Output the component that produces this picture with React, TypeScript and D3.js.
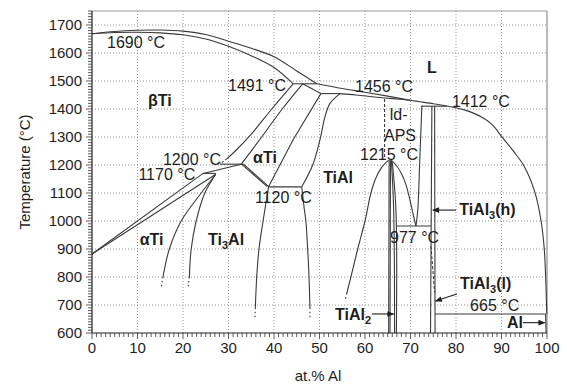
import * as d3 from "d3";
import React from "react";

type Pt = [number, number];

// axes
const xTickValues = d3.range(0, 101, 10);
const yTickValues = d3.range(600, 1701, 100);
const xMinor = d3.range(0, 101, 1);
const yMinor = d3.range(600, 1751, 10);

// phase boundaries, [at.% Al, °C]
const liquidusTi: Pt[] = [[0, 1669], [5, 1677], [10, 1681], [15, 1682], [20, 1678], [25, 1666], [30, 1642], [35, 1617], [40, 1587], [45, 1536], [49.4, 1490]];
const solidusBeta: Pt[] = [[0, 1669], [5, 1673], [10, 1674], [15, 1672], [20, 1665], [25, 1650], [30, 1624], [35, 1590], [40, 1548], [44.2, 1490]];
const liquidusAl: Pt[] = [[49.4, 1490], [55, 1473], [60, 1460], [65, 1446], [70, 1431], [75, 1419], [78, 1411], [82, 1396], [86, 1368], [88, 1343], [90, 1302], [92.5, 1252], [95, 1195], [97.3, 1105], [98.7, 1000], [99.4, 900], [99.7, 800], [99.9, 700], [99.95, 668]];
const solidusGamma: Pt[] = [[54.5, 1455], [58, 1450], [62, 1443], [66, 1437], [70, 1431]];
const betaTransus: Pt[] = [[44.2, 1490], [39.5, 1400], [35, 1310], [31.5, 1250], [29.6, 1222]];
const betaTransusDash: Pt[] = [[29.6, 1222], [28.1, 1203]];
const alphaBeta: Pt[] = [[46.3, 1490], [41.8, 1400], [37.3, 1300], [32.8, 1203]];
const alphaSolidus: Pt[] = [[46.3, 1490], [50.3, 1455]];
const alphaGamma: Pt[] = [[50.3, 1455], [44.2, 1290], [38.8, 1122]];
const gammaLeft: Pt[] = [[54.5, 1455], [52.3, 1420], [51.2, 1372], [50.1, 1290], [48.5, 1200], [46.1, 1122]];
const gammaLeftLow: Pt[] = [[46.1, 1122], [46.6, 1050], [47, 1000], [47.4, 900], [47.7, 800], [47.9, 690]];
const alpha2Right: Pt[] = [[38.8, 1122], [37.6, 1000], [36.7, 900], [36.2, 800], [35.9, 690]];
const lensA: Pt[] = [[32.8, 1204], [38.5, 1123]];
const lensB: Pt[] = [[33.3, 1203], [38.9, 1122]];
const upperTi: Pt[] = [[0, 882], [24.4, 1170], [32.8, 1203]];
const lowerTi: Pt[] = [[0, 882], [27.2, 1167]];
const alphaAlpha2: Pt[] = [[27.2, 1167], [24, 1100], [19.6, 1000], [17, 900], [15.6, 800]];
const alpha2Left: Pt[] = [[27.2, 1167], [24.8, 1100], [22.9, 1000], [21.8, 900], [21.4, 800]];
const dome: Pt[] = [[56, 742], [56.9, 800], [58.4, 900], [60, 1000], [61.3, 1100], [62.3, 1150], [63.6, 1190], [65.5, 1218], [66.8, 1200], [68, 1170], [69, 1130], [69.8, 1080], [70.5, 1030], [71.2, 982]];
const tiAl2A: Pt[] = [[65.3, 1214], [65.2, 600]];
const tiAl2B: Pt[] = [[65.6, 1216], [65.5, 600]];
const tiAl2C: Pt[] = [[65.8, 1214], [66.3, 1040], [66.5, 600]];
const tiAl2D: Pt[] = [[66.0, 1210], [66.8, 1040], [66.9, 600]];
const ldApsEdge: Pt[] = [[72.5, 1413], [72.0, 1200], [71.6, 1039], [71.2, 982]];
const tiAl3Left: Pt[] = [[74.7, 1410], [74.4, 600]];
const tiAl3Right: Pt[] = [[75.3, 1410], [75.4, 600]];
const alSolvus: Pt[] = [[99.7, 668], [99.8, 600]];

// isotherms
const iso1491: Pt[] = [[44.2, 1490], [49.4, 1490]];
const iso1456: Pt[] = [[50.3, 1455], [54.5, 1455]];
const iso1412: Pt[] = [[72.5, 1410], [78, 1410]];
const iso1200: Pt[] = [[28.1, 1203], [33.3, 1203]];
const iso1170: Pt[] = [[24.4, 1170], [27.2, 1170]];
const iso1120: Pt[] = [[38.8, 1122], [46.1, 1122]];
const iso977: Pt[] = [[66.9, 982], [74.5, 982]];
const iso665: Pt[] = [[75.4, 668], [99.7, 668]];

// dashed and dotted parts
const ldApsDash: Pt[] = [[64.3, 1436], [64.3, 1224]];
const tiAl3Dash: Pt[] = [[74.5, 910], [75.3, 745]];
const tails: Pt[][] = [
  [[15.6, 800], [15.2, 760]],
  [[21.4, 800], [21.1, 760]],
  [[35.9, 690], [35.8, 650]],
  [[47.9, 690], [47.9, 650]],
  [[56, 742], [55.6, 715]],
];

const smoothLines = [liquidusTi, solidusBeta, liquidusAl, solidusGamma, betaTransus, alphaBeta, gammaLeft, gammaLeftLow, alpha2Right, alphaAlpha2, alpha2Left, dome, tiAl2C, tiAl2D, ldApsEdge];
const straightLines = [alphaSolidus, alphaGamma, lensA, lensB, upperTi, lowerTi, tiAl2A, tiAl2B, tiAl3Left, tiAl3Right, alSolvus, iso1491, iso1456, iso1412, iso1200, iso1170, iso1120, iso977, iso665];

// annotations: text, at.% Al, °C (left / baseline)
const tempLabels = [
  { t: "1690 °C", c: 3.3, T: 1618 },
  { t: "1491 °C", c: 29.9, T: 1463 },
  { t: "1456 °C", c: 57.8, T: 1461 },
  { t: "1412 °C", c: 79.1, T: 1407 },
  { t: "1215 °C", c: 58.9, T: 1218 },
  { t: "1200 °C", c: 15.6, T: 1200 },
  { t: "1170 °C", c: 10.2, T: 1145 },
  { t: "1120 °C", c: 35.8, T: 1064 },
  { t: "977 °C", c: 65.5, T: 921 },
  { t: "665 °C", c: 83.1, T: 679 },
];
const apsLabels = [
  { t: "ld-", c: 67.4, T: 1361 },
  { t: "APS", c: 67.7, T: 1287 },
];
const phaseLabels = [
  { t: "βTi", c: 12.3, T: 1411 },
  { t: "L", c: 73.6, T: 1529 },
  { t: "αTi", c: 35.4, T: 1207 },
  { t: "TiAl", c: 50.8, T: 1136 },
  { t: "TiAl_3(h)", c: 80.7, T: 1022 },
  { t: "αTi", c: 10.5, T: 914 },
  { t: "Ti_3Al", c: 25.5, T: 916 },
  { t: "TiAl_3(l)", c: 80.9, T: 757 },
  { t: "TiAl_2", c: 53.4, T: 647 },
  { t: "Al", c: 91.2, T: 618 },
];
const arrows: Pt[][] = [
  [[80.0, 1039], [74.9, 1039]],
  [[80.2, 739], [75.5, 714]],
  [[61.5, 668], [66.3, 668]],
  [[94.7, 637], [99.5, 637]],
];

const FONT = "'Liberation Sans', Arial, Helvetica, sans-serif";
const INK = "#1e1e1e";
const LINE = "#3a3a3a";

const x = d3.scaleLinear().domain([0, 100]).range([92, 547]);
const y = d3.scaleLinear().domain([600, 1750]).range([333, 11]);

const smooth = d3.line<Pt>().x(d => x(d[0])).y(d => y(d[1])).curve(d3.curveCatmullRom.alpha(0.5));
const straight = d3.line<Pt>().x(d => x(d[0])).y(d => y(d[1]));

function richText(t: string) {
  // "TiAl_3(h)" -> TiAl, subscript 3, (h)
  const parts = t.split(/_(\d)/);
  return parts.map((p, i) =>
    i % 2 === 1 ? (
      <tspan key={i} dy={4} fontSize={11}>{p}</tspan>
    ) : (
      <tspan key={i} dy={i > 0 ? -4 : 0}>{p}</tspan>
    )
  );
}

export default function App() {
  return (
    <svg width={567} height={386} style={{ position: "absolute", left: 0, top: 0, background: "#fff" }} fontFamily={FONT}>
      <defs>
        <marker id="arr" viewBox="0 0 10 10" refX="9" refY="5" markerWidth="8" markerHeight="7" orient="auto" markerUnits="userSpaceOnUse">
          <path d="M0,1 L10,5 L0,9 Z" fill={INK} />
        </marker>
      </defs>

      {/* grid */}
      {xTickValues.filter(v => v > 0 && v < 100).map(v => (
        <line key={"gx" + v} x1={x(v)} x2={x(v)} y1={y(600)} y2={y(1750)} stroke="#8a8a8a" strokeWidth={0.9} strokeDasharray="1,2" />
      ))}
      {yTickValues.filter(v => v > 600).map(v => (
        <line key={"gy" + v} x1={x(0)} x2={x(100)} y1={y(v)} y2={y(v)} stroke="#8a8a8a" strokeWidth={0.9} strokeDasharray="1,2" />
      ))}

      {/* frame */}
      <line x1={x(0)} x2={x(100)} y1={y(1750)} y2={y(1750)} stroke="#9a9a9a" strokeWidth={1} />
      <line x1={x(100)} x2={x(100)} y1={y(1750)} y2={y(600)} stroke="#777" strokeWidth={1} />

      {/* phase boundaries */}
      {smoothLines.map((pts, i) => (
        <path key={"s" + i} d={smooth(pts) || ""} fill="none" stroke={LINE} strokeWidth={1.1} />
      ))}
      {straightLines.map((pts, i) => (
        <path key={"l" + i} d={straight(pts) || ""} fill="none" stroke={LINE} strokeWidth={1.1} />
      ))}
      <path d={straight(betaTransusDash) || ""} fill="none" stroke={LINE} strokeWidth={1.1} strokeDasharray="2,2" />
      <path d={straight(ldApsDash) || ""} fill="none" stroke={LINE} strokeWidth={1.1} strokeDasharray="3,2" />
      <path d={straight(tiAl3Dash) || ""} fill="none" stroke={LINE} strokeWidth={1.1} strokeDasharray="3,2" />
      {tails.map((pts, i) => (
        <path key={"t" + i} d={straight(pts) || ""} fill="none" stroke={LINE} strokeWidth={1.1} strokeDasharray="1.5,2.5" />
      ))}

      {/* arrows */}
      {arrows.map((pts, i) => (
        <line key={"a" + i} x1={x(pts[0][0])} y1={y(pts[0][1])} x2={x(pts[1][0])} y2={y(pts[1][1])} stroke={INK} strokeWidth={1.1} markerEnd="url(#arr)" />
      ))}

      {/* axes */}
      <line x1={x(0)} x2={x(0)} y1={y(600)} y2={y(1750)} stroke="#222" strokeWidth={1.2} />
      <line x1={x(0)} x2={x(100)} y1={y(600)} y2={y(600)} stroke="#222" strokeWidth={1.2} />
      {yMinor.map(v => (
        <line key={"ym" + v} x1={x(0) - (v % 100 === 0 ? 6 : 4)} x2={x(0)} y1={y(v)} y2={y(v)} stroke="#333" strokeWidth={0.8} />
      ))}
      {xMinor.map(v => (
        <line key={"xm" + v} x1={x(v)} x2={x(v)} y1={y(600)} y2={y(600) + (v % 10 === 0 ? 6 : 4)} stroke="#333" strokeWidth={0.8} />
      ))}
      {yTickValues.map(v => (
        <text key={"yl" + v} x={82} y={y(v)} dy="0.35em" textAnchor="end" fontSize={15} fill={INK}>{v}</text>
      ))}
      {xTickValues.map(v => (
        <text key={"xl" + v} x={x(v)} y={353} textAnchor="middle" fontSize={15} fill={INK}>{v}</text>
      ))}
      <text x={318} y={381} textAnchor="middle" fontSize={15} fill={INK}>at.% Al</text>
      <text transform={`translate(30,${y(1175)}) rotate(-90)`} textAnchor="middle" fontSize={15} fill={INK}>Temperature (°C)</text>

      {/* annotations */}
      {tempLabels.map((l, i) => (
        <text key={"tl" + i} x={x(l.c)} y={y(l.T)} fontSize={16} fill={INK}>{l.t}</text>
      ))}
      {apsLabels.map((l, i) => (
        <text key={"ap" + i} x={x(l.c)} y={y(l.T)} textAnchor="middle" fontSize={16} fill={INK}>{l.t}</text>
      ))}
      {phaseLabels.map((l, i) => (
        <text key={"pl" + i} x={x(l.c)} y={y(l.T)} fontSize={16} fontWeight="bold" fill={INK}>{richText(l.t)}</text>
      ))}
    </svg>
  );
}
